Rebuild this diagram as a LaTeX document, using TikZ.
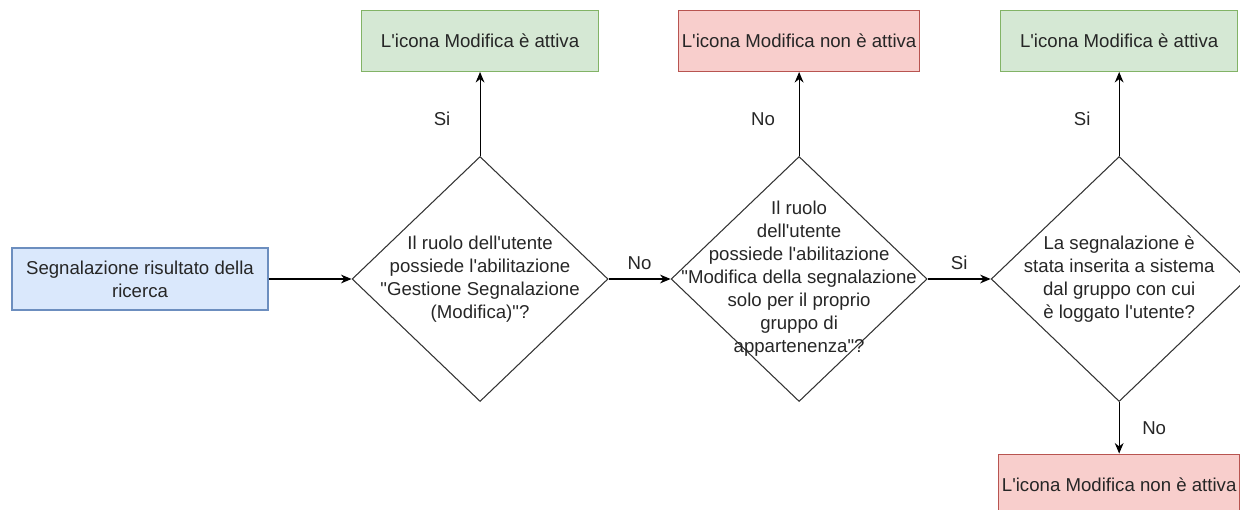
\documentclass[tikz,border=0pt]{standalone}
\usepackage{fontspec}
\setmainfont{Liberation Sans}[Ligatures=TeXOff]
\usepackage{xcolor}
\usetikzlibrary{positioning,arrows.meta,shapes.geometric}

\definecolor{srcF}{HTML}{DAE8FC}
\definecolor{srcD}{HTML}{6C8EBF}
\definecolor{okF}{HTML}{D5E8D4}
\definecolor{okD}{HTML}{82B366}
\definecolor{koF}{HTML}{F8CECC}
\definecolor{koD}{HTML}{B85450}

\begin{document}
\begin{tikzpicture}[
  font=\fontsize{10.6pt}{13.1pt}\selectfont,
  text=black!85,
  box/.style={draw, align=center, line width=0.6pt, inner sep=2pt, minimum width=4.74cm, minimum height=1.22cm},
  src/.style={box, fill=srcF, draw=srcD, minimum width=5.12cm, minimum height=1.24cm},
  ok/.style={box, fill=okF, draw=okD},
  ko/.style={box, fill=koF, draw=koD},
  dec/.style={diamond, draw=black!80, line width=0.6pt, inner sep=0pt, minimum width=5.12cm, minimum height=4.9cm},
  arr/.style={-{Stealth[length=6pt, width=5pt]}, line width=0.6pt}
]
\useasboundingbox (0,0) rectangle (24.8,-10.18);
\node[src] (seg) at (2.8,-5.58) {Segnalazione risultato della\\ricerca};
\node[dec, right=1.66cm of seg, label={[align=center]center:{Il ruolo dell'utente\\possiede l'abilitazione\\"Gestione Segnalazione\\(Modifica)"?}}] (d1) {};
\node[dec, right=1.24cm of d1, label={[align=center]center:{Il ruolo\\dell'utente\\possiede l'abilitazione\\"Modifica della segnalazione\\solo per il proprio\\gruppo di\\appartenenza"?}}] (d2) {};
\node[dec, right=1.26cm of d2, label={[align=center]center:{La segnalazione è\\stata inserita a sistema\\dal gruppo con cui\\è loggato l'utente?}}] (d3) {};
\node[ok, above=1.68cm of d1] (att1) {L'icona Modifica è attiva};
\node[ko, above=1.68cm of d2] (non2) {L'icona Modifica non è attiva};
\node[ok, above=1.68cm of d3] (att3) {L'icona Modifica è attiva};
\node[ko, below=1.03cm of d3] (non3) {L'icona Modifica non è attiva};
\draw[arr] (seg) -- (d1);
\draw[arr] (d1) -- node[midway, yshift=0.32cm] {No} (d2);
\draw[arr] (d2) -- node[midway, yshift=0.32cm] {Si} (d3);
\draw[arr] (d1) -- node[pos=0.44, xshift=-0.76cm] {Si} (att1);
\draw[arr] (d2) -- node[pos=0.44, xshift=-0.72cm] {No} (non2);
\draw[arr] (d3) -- node[pos=0.44, xshift=-0.74cm] {Si} (att3);
\draw[arr] (d3) -- node[midway, xshift=0.7cm] {No} (non3);
\end{tikzpicture}
\end{document}
